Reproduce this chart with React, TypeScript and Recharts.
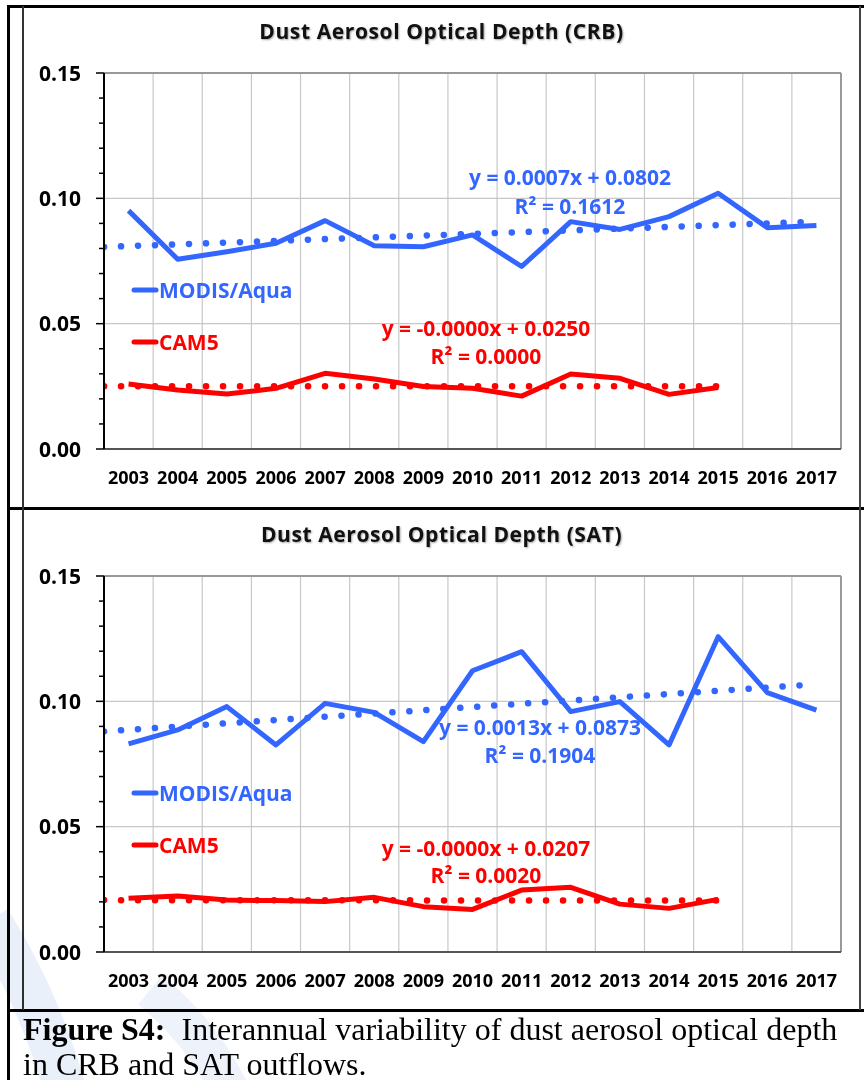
import { LineChart, Line, XAxis, YAxis, CartesianGrid, ReferenceLine, Legend } from 'recharts';

const years = [2003, 2004, 2005, 2006, 2007, 2008, 2009, 2010, 2011, 2012, 2013, 2014, 2015, 2016, 2017];
const cellEdges = [2002.5, 2003.5, 2004.5, 2005.5, 2006.5, 2007.5, 2008.5, 2009.5, 2010.5, 2011.5, 2012.5, 2013.5, 2014.5, 2015.5, 2016.5, 2017.5];
const yTicks = [0, 0.01, 0.02, 0.03, 0.04, 0.05, 0.06, 0.07, 0.08, 0.09, 0.1, 0.11, 0.12, 0.13, 0.14, 0.15];
const seriesNames = ['MODIS/Aqua', 'CAM5'];

// CRB
const crbModis = [0.0951, 0.0757, 0.0787, 0.0821, 0.0911, 0.0811, 0.0807, 0.0854, 0.0728, 0.0907, 0.0876, 0.0927, 0.1020, 0.0883, 0.0892];
const crbCam5 = [0.0259, 0.0235, 0.0219, 0.0242, 0.0302, 0.0279, 0.0249, 0.0242, 0.0211, 0.0299, 0.0282, 0.0218, 0.0245];
// SAT
const satModis = [0.0830, 0.0886, 0.0979, 0.0826, 0.0992, 0.0956, 0.0839, 0.1122, 0.1198, 0.0959, 0.0999, 0.0826, 0.1258, 0.1035, 0.0965];
const satCam5 = [0.0214, 0.0223, 0.0207, 0.0205, 0.0201, 0.0218, 0.0181, 0.0170, 0.0247, 0.0258, 0.0191, 0.0174, 0.0210];

// trendline ends: left edge of plot -> last year of the series
const crbModisTrend = [0.0806, 0.0907];
const crbCam5Trend = [0.0250, 0.0250];
const satModisTrend = [0.0880, 0.1068];
const satCam5Trend = [0.0207, 0.0205];

const BLUE = '#3366ff';
const RED = '#ff0000';
const SANS = '"Open Sans", Lato, sans-serif';

const toPoints = (vals: number[]) => vals.map((v, i) => ({ year: years[i], v }));
const toTrend = (ends: number[], n: number) => [
  { year: cellEdges[0], v: ends[0] },
  { year: years[n - 1], v: ends[1] },
];

const YTick = (props: any) => {
  const { x, y, payload, index } = props;
  const major = index % 5 === 0;
  return (
    <g>
      <line x1={x - (major ? 8 : 5)} x2={x} y1={y} y2={y} stroke="#000" strokeWidth={1.5} />
      {major && (
        <text x={x - 23} y={y} dy="0.36em" textAnchor="end" fontFamily={SANS} fontWeight={700} fontSize={21} fill="#000">
          {payload.value.toFixed(2)}
        </text>
      )}
    </g>
  );
};

const XTick = (props: any) => {
  const { x, y, payload } = props;
  return (
    <text x={x} y={y + 35} textAnchor="middle" fontFamily={SANS} fontWeight={700} fontSize={18} fill="#000">
      {payload.value}
    </text>
  );
};

const LegendBox = (props: any) => {
  const items = (props.payload || [])
    .filter((p: any) => seriesNames.includes(p.value))
    .sort((a: any, b: any) => seriesNames.indexOf(a.value) - seriesNames.indexOf(b.value));
  return (
    <div>
      {items.map((p: any) => (
        <div key={p.value} style={{ display: 'flex', alignItems: 'center', height: 52 }}>
          <svg width={28} height={10}>
            <line x1={3} x2={25} y1={5} y2={5} stroke={p.color} strokeWidth={5} strokeLinecap="round" />
          </svg>
          <span style={{ fontFamily: SANS, fontWeight: 700, fontSize: 21, color: p.color, marginLeft: 0 }}>{p.value}</span>
        </div>
      ))}
    </div>
  );
};

type Eq = { lines: string[]; x: number; y: number[]; color: string };

const Panel = ({ top, title, modis, cam5, modisTrend, cam5Trend, eqs, plotTop, axisH, legendTop }: any) => {
  return (
    <div style={{ position: 'absolute', left: 23, top, width: 837, height: 502 }}>
      <div
        style={{
          position: 'absolute', left: 0, width: 837, top: plotTop - 56, textAlign: 'center',
          fontFamily: SANS, fontWeight: 700, fontSize: 21, letterSpacing: 0.6, color: '#111',
          textShadow: '1px 1px 2px rgba(0,0,0,0.35)',
        }}
      >
        {title}
      </div>
      <LineChart width={837} height={502} margin={{ top: plotTop, right: 19, bottom: 0, left: 0 }}>
        <CartesianGrid stroke="#c8c8c8" strokeWidth={1.2} horizontalValues={[0.05, 0.1]} verticalValues={cellEdges} />
        <XAxis
          dataKey="year" type="number" domain={[2002.5, 2017.5]} ticks={years} interval={0}
          height={axisH} tickSize={0} tickMargin={0} tickLine={false} tick={<XTick />}
          axisLine={{ stroke: '#555', strokeWidth: 2 }} allowDataOverflow
        />
        <YAxis
          type="number" domain={[0, 0.15]} ticks={yTicks} interval={0} width={81}
          tickSize={0} tickMargin={0} tickLine={false} tick={<YTick />}
          axisLine={{ stroke: '#000', strokeWidth: 2 }} allowDataOverflow
        />
        <ReferenceLine y={0.15} stroke="#999" strokeWidth={2} />
        <ReferenceLine x={2017.5} stroke="#999" strokeWidth={2} />
        <Line data={toPoints(modis)} dataKey="v" name="MODIS/Aqua" stroke={BLUE} strokeWidth={5} strokeLinejoin="round" dot={false} isAnimationActive={false} />
        <Line data={toPoints(cam5)} dataKey="v" name="CAM5" stroke={RED} strokeWidth={5} strokeLinejoin="round" dot={false} isAnimationActive={false} />
        <Line data={toTrend(modisTrend, modis.length)} dataKey="v" name="MODIS trend" legendType="none" stroke={BLUE} strokeWidth={6.5} strokeDasharray="0.1 16.9" strokeLinecap="round" dot={false} isAnimationActive={false} />
        <Line data={toTrend(cam5Trend, cam5.length)} dataKey="v" name="CAM5 trend" legendType="none" stroke={RED} strokeWidth={6.5} strokeDasharray="0.1 16.9" strokeLinecap="round" dot={false} isAnimationActive={false} />
        <Legend
          layout="horizontal" verticalAlign="middle" align="center" content={<LegendBox />}
          wrapperStyle={{ left: 108, top: legendTop, width: 'auto' }}
        />
      </LineChart>
      {eqs.map((e: Eq, i: number) =>
        e.lines.map((t, j) => (
          <div
            key={`${i}-${j}`}
            style={{
              position: 'absolute', left: e.x - 150, width: 300, top: e.y[j] - 14, textAlign: 'center',
              fontFamily: SANS, fontWeight: 700, fontSize: 21, color: e.color, whiteSpace: 'pre', lineHeight: '28px',
            }}
          >
            {t}
          </div>
        ))
      )}
    </div>
  );
};

export default function App() {
  return (
    <div style={{ position: 'absolute', left: 0, top: 0, width: 864, height: 1080, background: '#fff', overflow: 'hidden' }}>
      <Panel
        top={6} title="Dust Aerosol Optical Depth (CRB)" modis={crbModis} cam5={crbCam5}
        modisTrend={crbModisTrend} cam5Trend={crbCam5Trend} plotTop={67} axisH={59} legendTop={258}
        eqs={[
          { lines: ['y = 0.0007x + 0.0802', 'R² = 0.1612'], x: 547, y: [171, 200], color: BLUE },
          { lines: ['y = -0.0000x + 0.0250', 'R² = 0.0000'], x: 463, y: [322, 350], color: RED },
        ]}
      />
      <Panel
        top={508} title="Dust Aerosol Optical Depth (SAT)" modis={satModis} cam5={satCam5}
        modisTrend={satModisTrend} cam5Trend={satCam5Trend} plotTop={68} axisH={58} legendTop={259}
        eqs={[
          { lines: ['y = 0.0013x + 0.0873', 'R² = 0.1904'], x: 517, y: [219, 247], color: BLUE },
          { lines: ['y = -0.0000x + 0.0207', 'R² = 0.0020'], x: 463, y: [340, 367], color: RED },
        ]}
      />
      {/* table / frame lines */}
      <div style={{ position: 'absolute', left: 7, top: 5, width: 3, height: 1075, background: '#000' }} />
      <div style={{ position: 'absolute', left: 7, top: 5, width: 857, height: 3, background: '#000' }} />
      <div style={{ position: 'absolute', left: 7, top: 507, width: 857, height: 3, background: '#000' }} />
      <div style={{ position: 'absolute', left: 7, top: 1009, width: 857, height: 3, background: '#000' }} />
      <div style={{ position: 'absolute', left: 22, top: 6, width: 1.5, height: 1004, background: '#333' }} />
      <div style={{ position: 'absolute', left: 859, top: 6, width: 1.5, height: 1004, background: '#444' }} />
      {/* caption */}
      <div
        style={{
          position: 'absolute', left: 23, top: 1012, width: 841, fontFamily: '"Liberation Serif", "Times New Roman", serif',
          fontSize: 32, lineHeight: '34.5px', color: '#000', whiteSpace: 'pre',
        }}
      >
        <b>Figure S4:</b>{'  Interannual variability of dust aerosol optical depth'}
        {'\n'}in CRB and SAT outflows.
      </div>
      {/* faint watermark stripes */}
      <svg width={864} height={1080} style={{ position: 'absolute', left: 0, top: 0, pointerEvents: 'none', mixBlendMode: 'multiply' }}>
        <path d="M -10 920 Q 40 1000 65 1090" stroke="#eaf0fa" strokeWidth={42} fill="none" />
        <path d="M 150 990 Q 200 1030 230 1090" stroke="#eef3fb" strokeWidth={38} fill="none" />
      </svg>
    </div>
  );
}
